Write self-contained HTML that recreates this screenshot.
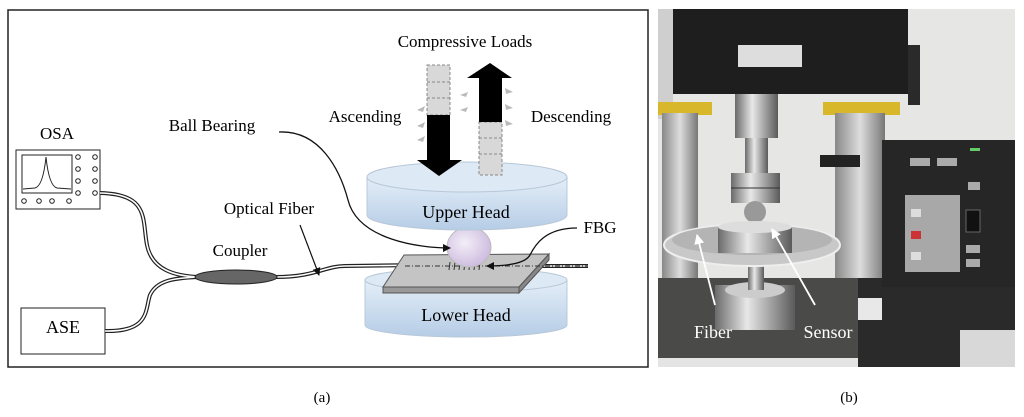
<!DOCTYPE html>
<html><head><style>body{margin:0;background:#fff}svg{display:block}</style></head><body>
<svg width="1024" height="417" viewBox="0 0 1024 417" xmlns="http://www.w3.org/2000/svg" font-family="Liberation Serif, serif">
<defs>
<linearGradient id="cyl" x1="0" y1="0" x2="0" y2="1"><stop offset="0" stop-color="#e4eef8"/><stop offset="1" stop-color="#b6cde6"/></linearGradient>
<radialGradient id="ball" cx="0.4" cy="0.4" r="0.7"><stop offset="0" stop-color="#f3eef8"/><stop offset="1" stop-color="#c9b6dc"/></radialGradient>
<linearGradient id="met" x1="0" y1="0" x2="1" y2="0"><stop offset="0" stop-color="#6a6a6a"/><stop offset="0.4" stop-color="#e8e8e8"/><stop offset="1" stop-color="#5a5a5a"/></linearGradient>
<linearGradient id="col" x1="0" y1="0" x2="1" y2="0"><stop offset="0" stop-color="#888"/><stop offset="0.5" stop-color="#ddd"/><stop offset="1" stop-color="#777"/></linearGradient>
<marker id="ah" markerWidth="8" markerHeight="8" refX="7" refY="4" orient="auto" markerUnits="userSpaceOnUse"><path d="M0 0 L8 4 L0 8 Z" fill="#111"/></marker>
<marker id="wh" markerWidth="10" markerHeight="10" refX="9" refY="5" orient="auto" markerUnits="userSpaceOnUse"><path d="M0 0 L10 5 L0 10 Z" fill="#fff"/></marker>
</defs>
<rect x="8" y="10" width="640" height="357" fill="#fff" stroke="#222" stroke-width="1.5"/>
<text x="322" y="402" font-size="15" text-anchor="middle">(a)</text>
<text x="465" y="47" font-size="17" text-anchor="middle">Compressive Loads</text>
<text x="365" y="122" font-size="17" text-anchor="middle">Ascending</text>
<text x="571" y="122" font-size="17" text-anchor="middle">Descending</text>
<text x="212" y="131" font-size="17" text-anchor="middle">Ball Bearing</text>
<text x="57" y="139" font-size="17" text-anchor="middle">OSA</text>
<text x="269" y="214" font-size="17" text-anchor="middle">Optical Fiber</text>
<text x="240" y="256" font-size="17" text-anchor="middle">Coupler</text>
<text x="600" y="233" font-size="17" text-anchor="middle">FBG</text>
<!-- OSA -->
<rect x="16" y="150" width="84" height="59" fill="#fff" stroke="#222"/>
<rect x="22" y="155" width="50" height="38" fill="#fff" stroke="#222"/>
<path d="M23 189 L35 188 Q43 186 46 157 Q49 186 57 188 L71 189" fill="none" stroke="#222"/>
<g fill="none" stroke="#222"><circle cx="78" cy="157" r="2.3"/><circle cx="95" cy="157" r="2.3"/><circle cx="78" cy="169" r="2.3"/><circle cx="95" cy="169" r="2.3"/><circle cx="78" cy="181" r="2.3"/><circle cx="95" cy="181" r="2.3"/><circle cx="78" cy="193" r="2.3"/><circle cx="95" cy="193" r="2.3"/><circle cx="24" cy="201" r="2.3"/><circle cx="39" cy="201" r="2.3"/><circle cx="52" cy="201" r="2.3"/><circle cx="69" cy="201" r="2.3"/></g>
<!-- ASE -->
<rect x="21" y="308" width="84" height="46" fill="#fff" stroke="#222"/>
<text x="63" y="333" font-size="18" text-anchor="middle">ASE</text>
<!-- fibers -->
<g fill="none" stroke="#222" stroke-width="4"><path d="M100 193 C150 194 142 220 147 245 C152 270 175 276 198 277"/><path d="M105 331 C150 332 145 310 150 295 C157 280 175 278 198 277"/><path d="M276 277 C315 277 325 266 345 266 L420 265"/><path d="M540 266 L588 266"/></g>
<g fill="none" stroke="#fff" stroke-width="1.6"><path d="M100 193 C150 194 142 220 147 245 C152 270 175 276 198 277"/><path d="M105 331 C150 332 145 310 150 295 C157 280 175 278 198 277"/><path d="M276 277 C315 277 325 266 345 266 L420 265"/><path d="M540 266 L588 266"/></g>
<ellipse cx="236" cy="277" rx="41" ry="7" fill="#666" stroke="#222"/>
<line x1="300" y1="225" x2="319" y2="275" stroke="#111" stroke-width="1.2" marker-end="url(#ah)"/>
<!-- lower head -->
<path d="M365 280 L365 325 A101 12 0 0 0 567 325 L567 280 Z" fill="url(#cyl)" stroke="#b8c8d8"/>
<ellipse cx="466" cy="280" rx="101" ry="12" fill="#dde9f5" stroke="#b8c8d8"/>
<text x="466" y="321" font-size="18" text-anchor="middle">Lower Head</text>
<!-- plate -->
<path d="M404 255 L549 254 L519 287 L383 287 Z" fill="#c4c4c4" stroke="#555"/>
<path d="M383 287 L519 287 L519 293 L383 293 Z" fill="#999" stroke="#555"/>
<path d="M519 287 L549 254 L549 260 L519 293 Z" fill="#888" stroke="#555"/>
<line x1="405" y1="266" x2="588" y2="266" stroke="#333" stroke-dasharray="5,2,1,2"/>
<g stroke="#333"><line x1="450" y1="262" x2="449" y2="270"/><line x1="455" y1="262" x2="454" y2="270"/><line x1="460" y1="262" x2="459" y2="270"/><line x1="465" y1="262" x2="464" y2="270"/><line x1="470" y1="262" x2="469" y2="270"/><line x1="475" y1="262" x2="474" y2="270"/><line x1="480" y1="262" x2="479" y2="270"/></g>
<!-- ball -->
<ellipse cx="469" cy="247" rx="22" ry="20" fill="url(#ball)" stroke="#bbb"/>
<!-- upper head -->
<path d="M367 177 L367 215 A100 15 0 0 0 567 215 L567 177 Z" fill="url(#cyl)" stroke="#b8c8d8"/>
<ellipse cx="467" cy="177" rx="100" ry="15" fill="#dde9f5" stroke="#b8c8d8"/>
<text x="466" y="218" font-size="18" text-anchor="middle">Upper Head</text>
<!-- arrows -->
<rect x="427" y="65" width="23" height="50" fill="#d8d8d8" stroke="#888" stroke-dasharray="3,2"/>
<line x1="427" y1="82" x2="450" y2="82" stroke="#888" stroke-dasharray="3,2"/><line x1="427" y1="98" x2="450" y2="98" stroke="#888" stroke-dasharray="3,2"/>
<path d="M427 115 L450 115 L450 160 L462 160 L439 176 L417 160 L427 160 Z" fill="#000"/>
<rect x="479" y="122" width="23" height="53" fill="#d8d8d8" stroke="#888" stroke-dasharray="3,2"/>
<line x1="479" y1="138" x2="502" y2="138" stroke="#888" stroke-dasharray="3,2"/><line x1="479" y1="154" x2="502" y2="154" stroke="#888" stroke-dasharray="3,2"/>
<path d="M479 122 L502 122 L502 78 L512 78 L490 63 L467 78 L479 78 Z" fill="#000"/>
<g fill="#bbb"><path d="M417 110 l8 -4 l-2 6z"/><path d="M417 126 l8 -4 l-2 6z"/><path d="M417 140 l8 -4 l-2 6z"/><path d="M505 88 l8 4 l-7 2z"/><path d="M505 104 l8 4 l-7 2z"/><path d="M505 120 l8 4 l-7 2z"/><path d="M460 95 l8 -3 l-2 5z"/><path d="M460 110 l8 -3 l-2 5z"/></g>
<!-- callouts -->
<path d="M279 132 C320 130 340 170 348 200 C358 240 420 248 450 248" fill="none" stroke="#111" stroke-width="1.3" marker-end="url(#ah)"/>
<path d="M577 228 C545 228 535 245 530 255 C525 264 505 266 487 266" fill="none" stroke="#111" stroke-width="1.3" marker-end="url(#ah)"/>

<!-- PHOTO -->
<rect x="658" y="9" width="357" height="358" fill="#e6e6e4"/>
<rect x="658" y="9" width="15" height="110" fill="#cfcfcf"/>
<rect x="673" y="9" width="235" height="85" fill="#1e1e1e"/>
<rect x="908" y="45" width="12" height="60" fill="#2a2a2a"/>
<rect x="738" y="45" width="64" height="22" fill="#ddd"/>
<rect x="658" y="102" width="54" height="13" fill="#d8b82a"/>
<rect x="823" y="102" width="77" height="13" fill="#d8b82a"/>
<rect x="662" y="113" width="36" height="170" fill="url(#col)"/>
<rect x="835" y="113" width="50" height="170" fill="url(#col)"/>
<rect x="820" y="155" width="40" height="12" fill="#222"/>
<rect x="735" y="94" width="43" height="44" fill="url(#met)"/>
<rect x="745" y="138" width="23" height="35" fill="url(#met)"/>
<rect x="731" y="173" width="49" height="30" fill="url(#met)"/>
<line x1="731" y1="188" x2="780" y2="188" stroke="#333"/>
<circle cx="755" cy="212" r="11" fill="#999"/>
<rect x="858" y="278" width="157" height="89" fill="#2a2a2a"/>
<rect x="960" y="330" width="55" height="37" fill="#d8d8d8"/>
<rect x="847" y="298" width="35" height="22" fill="#e8e8e8"/>
<rect x="658" y="278" width="200" height="80" fill="#4a4a48"/>
<rect x="658" y="358" width="200" height="9" fill="#e4e4e4"/>
<rect x="715" y="285" width="80" height="45" fill="url(#met)"/>
<ellipse cx="755" cy="290" rx="30" ry="8" fill="#ccc"/>
<rect x="748" y="255" width="16" height="35" fill="url(#met)"/>
<ellipse cx="752" cy="245" rx="88" ry="21" fill="#c8c8c8" stroke="#eee" stroke-width="2"/>
<ellipse cx="752" cy="240" rx="80" ry="15" fill="#b4b4b4"/>
<rect x="718" y="227" width="74" height="26" fill="url(#met)"/>
<ellipse cx="755" cy="227" rx="37" ry="6" fill="#ddd"/>
<rect x="882" y="140" width="133" height="147" fill="#262626"/>
<rect x="905" y="195" width="55" height="77" fill="#a8a8a8"/>
<rect x="911" y="209" width="10" height="8" fill="#ddd"/><rect x="911" y="231" width="10" height="8" fill="#c33"/><rect x="911" y="252" width="10" height="8" fill="#ddd"/>
<rect x="910" y="158" width="20" height="8" fill="#aaa"/><rect x="937" y="158" width="20" height="8" fill="#aaa"/>
<rect x="968" y="182" width="12" height="8" fill="#aaa"/><rect x="966" y="210" width="14" height="22" fill="#111" stroke="#666"/>
<rect x="966" y="245" width="14" height="8" fill="#aaa"/><rect x="966" y="259" width="14" height="8" fill="#aaa"/>
<rect x="970" y="148" width="10" height="3" fill="#6c6"/>
<line x1="715" y1="305" x2="697" y2="235" stroke="#fff" stroke-width="1.8" marker-end="url(#wh)"/>
<line x1="815" y1="305" x2="772" y2="229" stroke="#fff" stroke-width="1.8" marker-end="url(#wh)"/>
<text x="713" y="338" font-size="18" fill="#fff" text-anchor="middle">Fiber</text>
<text x="828" y="338" font-size="18" fill="#fff" text-anchor="middle">Sensor</text>
<text x="849" y="402" font-size="15" text-anchor="middle">(b)</text>
</svg>
</body></html>
